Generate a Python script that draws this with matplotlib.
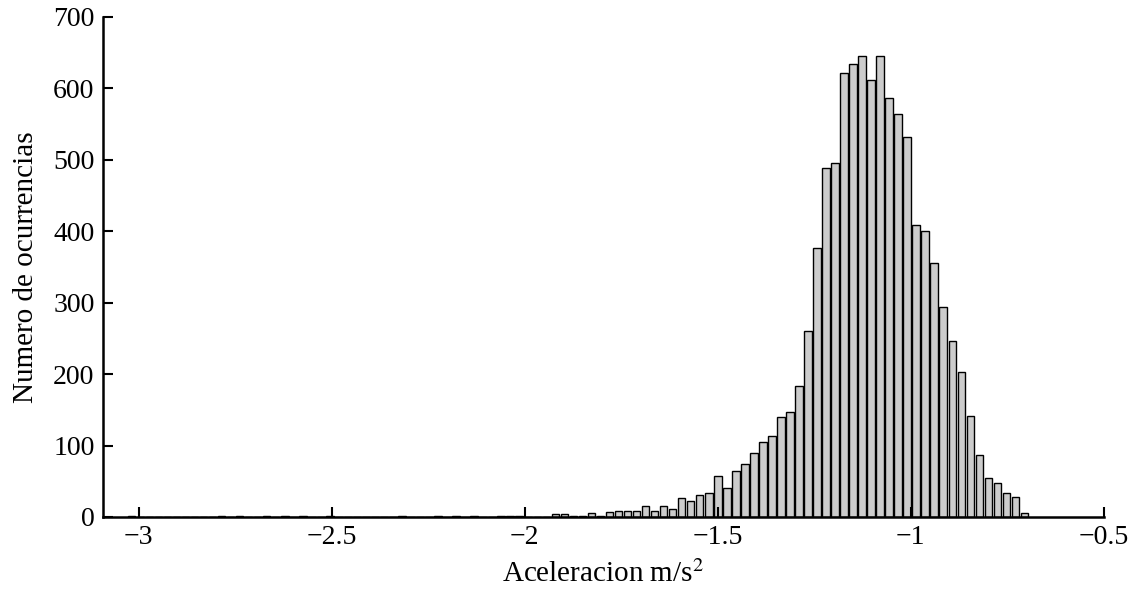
import numpy as np
import matplotlib
matplotlib.use('Agg')
import matplotlib.pyplot as plt

# histogram of 100 bins between the data min and max
data_min = -3.031
data_max = -0.694
counts = [
    1, 0, 0, 0, 0, 0, 0, 0, 0, 0,
    2, 0, 1, 0, 0, 1, 0, 1, 0, 1,
    0, 0, 1, 0, 0, 0, 0, 0, 0, 0,
    1, 0, 0, 0, 1, 0, 1, 0, 1, 0,
    0, 1, 1, 1, 0, 0, 0, 4, 4, 1,
    2, 6, 2, 7, 9, 9, 8, 15, 9, 16,
    11, 27, 23, 31, 34, 58, 40, 65, 74, 89,
    105, 114, 140, 147, 183, 260, 376, 488, 495, 622,
    634, 645, 612, 646, 587, 564, 532, 409, 400, 356,
    294, 247, 203, 141, 87, 55, 47, 34, 28, 6,
]
xticks = [-3, -2.5, -2, -1.5, -1, -0.5]
xticklabels = ['\u22123', '\u22122.5', '\u22122', '\u22121.5', '\u22121', '\u22120.5']
yticks = [0, 100, 200, 300, 400, 500, 600, 700]

plt.rcParams['font.family'] = ['Liberation Serif', 'DejaVu Serif']
plt.rcParams['mathtext.fontset'] = 'stix'

edges = np.linspace(data_min, data_max, len(counts) + 1)
centers = (edges[:-1] + edges[1:]) / 2
binw = edges[1] - edges[0]

fig = plt.figure(figsize=(11.31, 5.96), dpi=100)
ax = fig.add_axes([0.091, 0.1326, 0.885, 0.839])

ax.bar(centers, counts, width=binw * 0.84, color='#cccccc',
       edgecolor='black', linewidth=1.0)

ax.set_xlim(-3.093, -0.5)
ax.set_ylim(0, 700)
ax.set_xticks(xticks)
ax.set_xticklabels(xticklabels)
ax.set_yticks(yticks)

for s in ['top', 'right']:
    ax.spines[s].set_visible(False)
for s in ['left', 'bottom']:
    ax.spines[s].set_linewidth(1.8)

ax.tick_params(direction='in', length=7, width=1.5, labelsize=20, pad=6)

ax.set_xlabel('Aceleracion m/s$^2$', fontsize=21, labelpad=7)
ax.set_ylabel('Numero de ocurrencias', fontsize=21, labelpad=10)

plt.savefig('out.png', dpi=100)
plt.close()
